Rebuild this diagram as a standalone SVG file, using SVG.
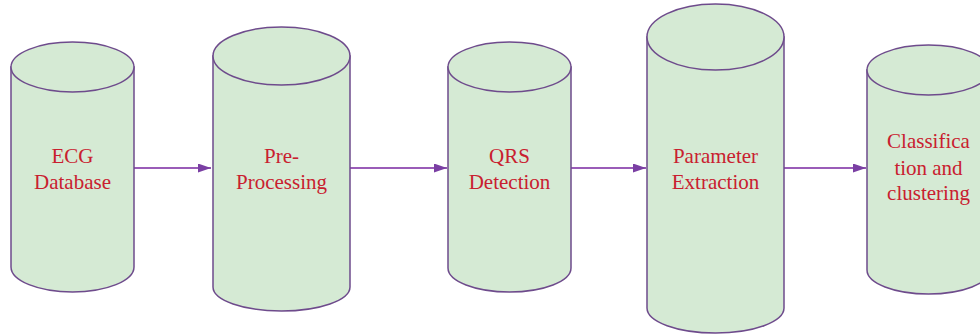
<svg xmlns="http://www.w3.org/2000/svg" width="980" height="336" viewBox="0 0 980 336">
<defs>
<style>
.cyl{fill:#d5ead4;stroke:#6e4b8c;stroke-width:1.5}
.lbl{font-family:"Liberation Serif","Times New Roman",serif;font-size:21px;fill:#c9202f;text-anchor:middle}
.conn{stroke:#9a5cb8;stroke-width:1.8;fill:none}
</style>
<marker id="ah" viewBox="0 0 10 10" refX="10" refY="5" markerWidth="13" markerHeight="9" markerUnits="userSpaceOnUse" orient="auto" preserveAspectRatio="none">
<path d="M0,0 L10,5 L0,10 Z" fill="#7a3fa3"/>
</marker>
</defs>
<rect width="980" height="336" fill="#ffffff"/>
<g id="connectors">
<line class="conn" x1="134" y1="168" x2="211" y2="168" marker-end="url(#ah)"/>
<line class="conn" x1="350" y1="168" x2="447" y2="168" marker-end="url(#ah)"/>
<line class="conn" x1="571" y1="168" x2="646" y2="168" marker-end="url(#ah)"/>
<line class="conn" x1="784" y1="168" x2="866" y2="168" marker-end="url(#ah)"/>
</g>
<g id="ecg-database">
<path class="cyl" d="M11,67 L11,267 A61.5,25 0 0 0 134,267 L134,67 Z"/>
<ellipse class="cyl" cx="72.5" cy="67" rx="61.5" ry="25"/>
<text class="lbl" x="72.5" y="163">ECG</text>
<text class="lbl" x="72.5" y="189">Database</text>
</g>
<g id="pre-processing">
<path class="cyl" d="M213,56 L213,287 A68.5,24 0 0 0 350,287 L350,56 Z"/>
<ellipse class="cyl" cx="281.5" cy="56" rx="68.5" ry="29"/>
<text class="lbl" x="281.5" y="163">Pre-</text>
<text class="lbl" x="281.5" y="189">Processing</text>
</g>
<g id="qrs-detection">
<path class="cyl" d="M448,67 L448,268 A61.5,24 0 0 0 571,268 L571,67 Z"/>
<ellipse class="cyl" cx="509.5" cy="67" rx="61.5" ry="25"/>
<text class="lbl" x="509.5" y="163">QRS</text>
<text class="lbl" x="509.5" y="189">Detection</text>
</g>
<g id="parameter-extraction">
<path class="cyl" d="M647,37 L647,308 A68.5,25 0 0 0 784,308 L784,37 Z"/>
<ellipse class="cyl" cx="715.5" cy="37" rx="68.5" ry="33"/>
<text class="lbl" x="715.5" y="163">Parameter</text>
<text class="lbl" x="715.5" y="189">Extraction</text>
</g>
<g id="classification">
<path class="cyl" d="M867,70 L867,270 A61.5,24 0 0 0 990,270 L990,70 Z"/>
<ellipse class="cyl" cx="928.5" cy="70" rx="61.5" ry="25"/>
<text class="lbl" x="928.5" y="148">Classifica</text>
<text class="lbl" x="928.5" y="175">tion and</text>
<text class="lbl" x="928.5" y="200">clustering</text>
</g>
</svg>
